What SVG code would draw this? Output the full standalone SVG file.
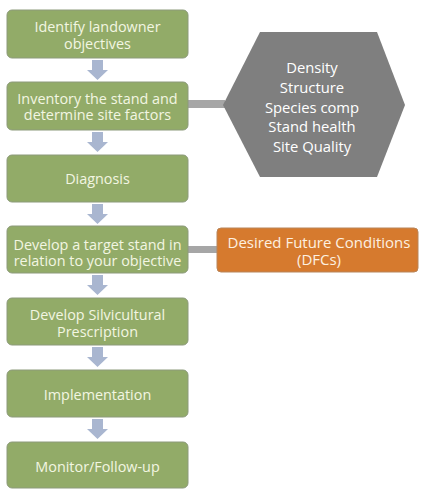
<svg xmlns="http://www.w3.org/2000/svg" width="423" height="489" viewBox="0 0 423 489">
<defs>
<style>
.box{fill:#92ab68;stroke:#8c9a7a;stroke-width:1}
.bt{font-family:"Open Sans","Liberation Sans",sans-serif;font-size:14.4px;fill:#f2f6e2;text-anchor:middle}
.ht{font-family:"Open Sans","Liberation Sans",sans-serif;font-size:14.8px;fill:#ffffff;text-anchor:middle}
.dt{font-family:"Open Sans","Liberation Sans",sans-serif;font-size:15px;fill:#fdf0e0;text-anchor:middle}
.arr{fill:#a9b6d0}
.bar{fill:#a6a6a6}
</style>
</defs>
<rect width="423" height="489" fill="#ffffff"/>
<g id="connectors">
<path class="arr" d="M92,60 H103 V70 H108 L97.5,80 L87,70 H92 Z"/>
<path class="arr" d="M92,132 H103 V142 H108 L97.5,152 L87,142 H92 Z"/>
<path class="arr" d="M92,204 H103 V214 H108 L97.5,224 L87,214 H92 Z"/>
<path class="arr" d="M92,275 H103 V285 H108 L97.5,295 L87,285 H92 Z"/>
<path class="arr" d="M92,347 H103 V357 H108 L97.5,367 L87,357 H92 Z"/>
<path class="arr" d="M92,419 H103 V429 H108 L97.5,439 L87,429 H92 Z"/>
<rect class="bar" x="188" y="100" width="37" height="8"/>
<rect class="bar" x="188" y="246" width="30" height="7"/>
</g>
<g id="n1">
<rect class="box" x="7" y="10" width="181" height="48" rx="5"/>
<text class="bt" x="97.5" y="32">Identify landowner</text>
<text class="bt" x="97.5" y="48.5">objectives</text>
</g>
<g id="n2">
<rect class="box" x="7" y="82" width="181" height="48" rx="5"/>
<text class="bt" x="97.5" y="103.5">Inventory the stand and</text>
<text class="bt" x="97.5" y="120">determine site factors</text>
</g>
<g id="n3">
<rect class="box" x="7" y="155" width="181" height="47" rx="5"/>
<text class="bt" x="97.5" y="184">Diagnosis</text>
</g>
<g id="n4">
<rect class="box" x="7" y="226" width="181" height="47" rx="5"/>
<text class="bt" x="97.5" y="249.5">Develop a target stand in</text>
<text class="bt" x="97.5" y="266">relation to your objective</text>
</g>
<g id="n5">
<rect class="box" x="7" y="298" width="181" height="47" rx="5"/>
<text class="bt" x="97.5" y="320">Develop Silvicultural</text>
<text class="bt" x="97.5" y="336.5">Prescription</text>
</g>
<g id="n6">
<rect class="box" x="7" y="370" width="181" height="47" rx="5"/>
<text class="bt" x="97.5" y="400">Implementation</text>
</g>
<g id="n7">
<rect class="box" x="7" y="442" width="181" height="46" rx="5"/>
<text class="bt" x="97.5" y="472">Monitor/Follow-up</text>
</g>
<g id="hex">
<polygon points="223,105 260,32 377,32 405,105 377,177 260,177" fill="#7f7f7f"/>
<text class="ht" x="312" y="73">Density</text>
<text class="ht" x="312" y="93">Structure</text>
<text class="ht" x="312" y="113">Species comp</text>
<text class="ht" x="312" y="132">Stand health</text>
<text class="ht" x="312" y="152">Site Quality</text>
</g>
<g id="dfc">
<rect x="217" y="228" width="201" height="44" rx="4" fill="#d67a2e" stroke="#b8855a" stroke-width="1"/>
<text class="dt" x="319" y="248">Desired Future Conditions</text>
<text class="dt" x="319" y="265">(DFCs)</text>
</g>
</svg>
